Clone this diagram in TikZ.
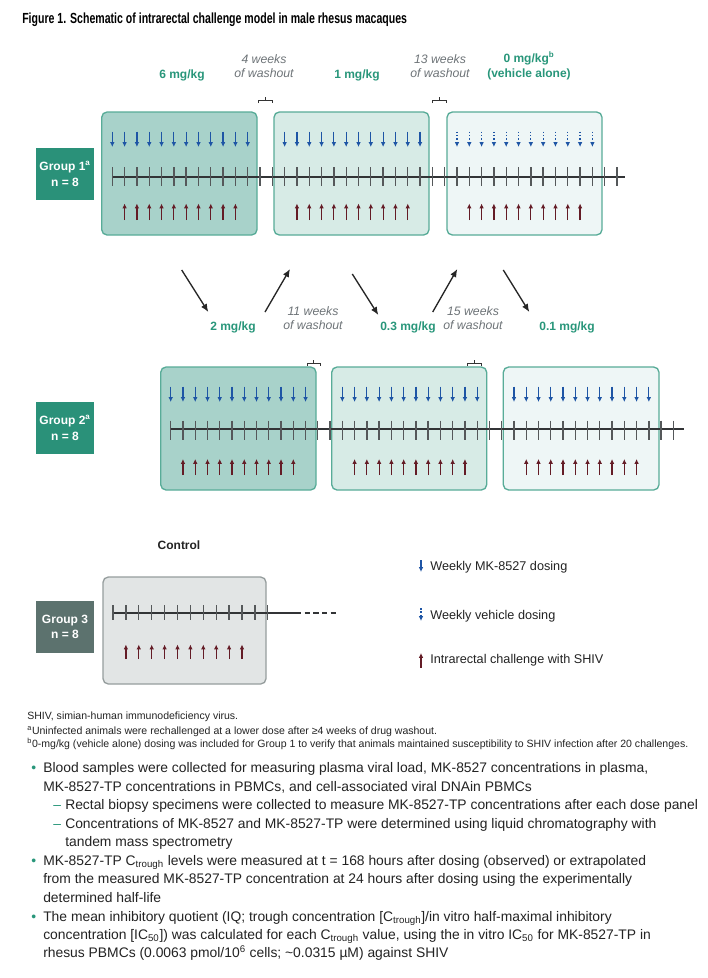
\documentclass[tikz,border=0pt]{standalone}
\usepackage{fontspec}
\setmainfont{Liberation Sans}
\newfontfamily\narrowfont[FakeStretch=0.72]{Liberation Sans}
\usepackage{tikz}
\usetikzlibrary{
  positioning,
  arrows.meta,
  arrows
}
\usepackage{xcolor}

\definecolor{grpteal}{RGB}{42,145,121}
\definecolor{doseteal}{RGB}{40,150,122}
\definecolor{pline}{RGB}{88,172,152}
\definecolor{pfillA}{RGB}{168,210,202}
\definecolor{pfillB}{RGB}{215,235,230}
\definecolor{pfillC}{RGB}{238,246,246}
\definecolor{ctlfill}{RGB}{226,229,229}
\definecolor{ctlline}{RGB}{150,158,158}
\definecolor{ctlgrp}{RGB}{92,114,110}
\definecolor{dosblue}{RGB}{30,85,165}
\definecolor{shivred}{RGB}{100,28,38}
\definecolor{washgray}{RGB}{110,116,120}
\definecolor{tlgray}{RGB}{50,52,54}
\definecolor{tickgray}{RGB}{85,88,90}
\definecolor{txtgray}{RGB}{35,35,35}

\begin{document}
\begin{tikzpicture}[x=0.75pt,y=-0.75pt,>=latex',
  dose/.style={font=\bfseries\fontsize{9}{11}\selectfont,text=doseteal,align=center,inner sep=0pt},
  wash/.style={font=\itshape\fontsize{9.2}{11}\selectfont,text=washgray,align=center,inner sep=0pt},
  grp/.style={fill=grpteal,text=white,font=\bfseries\fontsize{9}{11.5}\selectfont,align=center,
    minimum width=43.5pt,minimum height=39pt,inner sep=0pt},
  pnl/.style={draw=pline,line width=1pt,rounded corners=4pt},
  tl/.style={draw=tlgray,line width=1.5pt},
  tick/.style={draw=tickgray,line width=1pt},
  dos/.style={-{Latex[length=3.6pt,width=3.4pt]},draw=dosblue,line width=0.9pt},
  veh/.style={-{Latex[length=3.6pt,width=3.4pt]},draw=dosblue,line width=0.9pt,dash pattern=on 1.2pt off 1.3pt},
  shiv/.style={-{Latex[length=3.6pt,width=3.4pt]},draw=shivred,line width=0.9pt},
  brk/.style={draw=black!80,line width=0.6pt},
  step arrow/.style={-{Latex[length=6pt,width=5pt]},line width=1pt,black!85},
  legtxt/.style={font=\fontsize{9.5}{11}\selectfont,text=txtgray,anchor=west,inner sep=0pt},
  fnote/.style={font=\fontsize{7.9}{9}\selectfont,text=txtgray,anchor=base west,inner sep=0pt},
  btxt/.style={font=\fontsize{10.4}{13.9}\selectfont,text=txtgray,anchor=base west,inner sep=0pt},
  bmark/.style={font=\fontsize{10.4}{13.9}\selectfont,text=doseteal,anchor=base west,inner sep=0pt}
]
\useasboundingbox[fill=white] (0,0) rectangle (707,978);

% title
\node[anchor=west,inner sep=0pt,font=\narrowfont\bfseries\fontsize{11}{13}\selectfont] (title) at (22,20)
  {Figure 1. Schematic of intrarectal challenge model in male rhesus macaques};

% ---------------- group 1
\node[dose] (d6) at (182,75) {6 mg/kg};
\node[wash] (w4) at (264,66) {4 weeks\\of washout};
\node[dose] (d1) at (357,75) {1 mg/kg};
\node[wash] (w13) at (440,66) {13 weeks\\of washout};
\node[dose] (d0) at (529,66) {0 mg/kg\textsuperscript{b}\\(vehicle alone)};

\draw[brk] (258,103) -- (258,100) -- (272,100) -- (272,103) (265,100) -- (265,97);
\draw[brk] (432,103) -- (432,100) -- (446,100) -- (446,103) (439,100) -- (439,97);

\node[grp] (g1) at (65,174) {Group 1\textsuperscript{a}\\n = 8};

\draw[pnl,fill=pfillA] (101.7,112) rectangle (257,235);
\draw[pnl,fill=pfillB] (274,112) rectangle (429,235);
\draw[pnl,fill=pfillC] (447,112) rectangle (602,235);

\draw[tl] (112.3,177) -- (625,177);
\foreach \k in {0,...,41}
  \draw[tick] ({112.3+\k*12.31},167) -- ({112.3+\k*12.31},186);
\foreach \s in {0,14}
  \foreach \k in {0,...,11}
    \draw[dos] ({112.3+(\s+\k)*12.31},131.5) -- ({112.3+(\s+\k)*12.31},147);
\foreach \k in {28,...,39}
  \draw[veh] ({112.3+\k*12.31},131.5) -- ({112.3+\k*12.31},147);
\foreach \s in {1,15,29}
  \foreach \k in {0,...,9}
    \draw[shiv] ({112.3+(\s+\k)*12.31},220) -- ({112.3+(\s+\k)*12.31},203.5);

% steps down to group 2
\coordinate (a1) at (181.7,270); \coordinate (a1e) at (208.3,312);
\coordinate (a2) at (265,312);   \coordinate (a2e) at (290,269);
\coordinate (a3) at (352.3,274); \coordinate (a3e) at (378.3,315);
\coordinate (a4) at (432.7,312); \coordinate (a4e) at (457.3,269);
\coordinate (a5) at (503.3,270); \coordinate (a5e) at (529.3,312);
\draw[step arrow] (a1) -- (a1e);
\draw[step arrow] (a2) -- (a2e);
\draw[step arrow] (a3) -- (a3e);
\draw[step arrow] (a4) -- (a4e);
\draw[step arrow] (a5) -- (a5e);

\node[dose] (d2) at (233,327) {2 mg/kg};
\node[wash] (w11) at (313,318) {11 weeks\\of washout};
\node[dose] (d03) at (408,327) {0.3 mg/kg};
\node[wash] (w15) at (473,318) {15 weeks\\of washout};
\node[dose] (d01) at (567,327) {0.1 mg/kg};

% ---------------- group 2
\draw[brk] (307,366) -- (307,363) -- (320,363) -- (320,366) (313.5,363) -- (313.5,360);
\draw[brk] (467,366) -- (467,363) -- (481,363) -- (481,366) (474,363) -- (474,360);

\node[grp] (g2) at (65,428) {Group 2\textsuperscript{a}\\n = 8};

\draw[pnl,fill=pfillA] (160.7,367) rectangle (316,490);
\draw[pnl,fill=pfillB] (331.7,367) rectangle (486.7,490);
\draw[pnl,fill=pfillC] (503.3,367) rectangle (659,490);

\draw[tl] (170.7,429.3) -- (684,429.3);
\foreach \k in {0,...,41}
  \draw[tick] ({170.7+\k*12.26},420.5) -- ({170.7+\k*12.26},439.5);
\foreach \s in {0,14,28}
  \foreach \k in {0,...,11}
    \draw[dos] ({170.7+(\s+\k)*12.26},386.5) -- ({170.7+(\s+\k)*12.26},402);
\foreach \s in {1,15,29}
  \foreach \k in {0,...,9}
    \draw[shiv] ({170.7+(\s+\k)*12.26},475) -- ({170.7+(\s+\k)*12.26},459);

% ---------------- group 3 (control)
\node[font=\bfseries\fontsize{9}{11}\selectfont,text=txtgray] (ctl) at (179,545) {Control};
\node[grp,fill=ctlgrp] (g3) at (65,627) {Group 3\\n = 8};
\draw[draw=ctlline,line width=1pt,rounded corners=4pt,fill=ctlfill] (103,577) rectangle (266,684);
\draw[tl] (113,612.5) -- (296,612.5);
\draw[tl,dash pattern=on 4pt off 2.5pt] (296,612.5) -- (337,612.5);
\foreach \k in {0,...,12}
  \draw[tick] ({113+\k*12.9},605) -- ({113+\k*12.9},620);
\foreach \k in {1,...,10}
  \draw[shiv] ({113+\k*12.9},659) -- ({113+\k*12.9},644.5);

% legend
\coordinate (l1) at (421,560); \coordinate (l1e) at (421,572);
\coordinate (l2) at (421,608); \coordinate (l2e) at (421,621);
\coordinate (l3) at (421,667.5); \coordinate (l3e) at (421,653);
\draw[dos] (l1) -- (l1e);
\draw[veh] (l2) -- (l2e);
\draw[shiv] (l3) -- (l3e);
\node[legtxt] (t1) at (430,567) {Weekly MK-8527 dosing};
\node[legtxt] (t2) at (430,616.5) {Weekly vehicle dosing};
\node[legtxt] (t3) at (430,660) {Intrarectal challenge with SHIV};

% footnotes
\node[fnote] (f1) at (27,719) {SHIV, simian-human immunodeficiency virus.};
\node[fnote] (f2) at (27,734) {\textsuperscript{a}Uninfected animals were rechallenged at a lower dose after ≥4 weeks of drug washout.};
\node[fnote] (f3) at (27,747) {\textsuperscript{b}0-mg/kg (vehicle alone) dosing was included for Group 1 to verify that animals maintained susceptibility to SHIV infection after 20 challenges.};

% bullets
\node[bmark] (m1) at (31,772) {•};
\node[btxt] (b1) at (43,772) {Blood samples were collected for measuring plasma viral load, MK-8527 concentrations in plasma,};
\node[btxt] (b2) at (43,791) {MK-8527-TP concentrations in PBMCs, and cell-associated viral DNAin PBMCs};
\node[bmark] (m2) at (53,809) {–};
\node[btxt] (b3) at (65,809) {Rectal biopsy specimens were collected to measure MK-8527-TP concentrations after each dose panel};
\node[bmark] (m3) at (53,828) {–};
\node[btxt] (b4) at (65,828) {Concentrations of MK-8527 and MK-8527-TP were determined using liquid chromatography with};
\node[btxt] (b5) at (65,846) {tandem mass spectrometry};
\node[bmark] (m4) at (31,865) {•};
\node[btxt] (b6) at (43,865) {MK-8527-TP C\textsubscript{trough} levels were measured at t = 168 hours after dosing (observed) or extrapolated};
\node[btxt] (b7) at (43,883) {from the measured MK-8527-TP concentration at 24 hours after dosing using the experimentally};
\node[btxt] (b8) at (43,902) {determined half-life};
\node[bmark] (m5) at (31,921) {•};
\node[btxt] (b9) at (43,921) {The mean inhibitory quotient (IQ; trough concentration [C\textsubscript{trough}]/in vitro half-maximal inhibitory};
\node[btxt] (b10) at (43,939) {concentration [IC\textsubscript{50}]) was calculated for each C\textsubscript{trough} value, using the in vitro IC\textsubscript{50} for MK-8527-TP in};
\node[btxt] (b11) at (43,957) {rhesus PBMCs (0.0063 pmol/10\textsuperscript{6} cells; \textasciitilde 0.0315 µM) against SHIV};
\end{tikzpicture}
\end{document}
